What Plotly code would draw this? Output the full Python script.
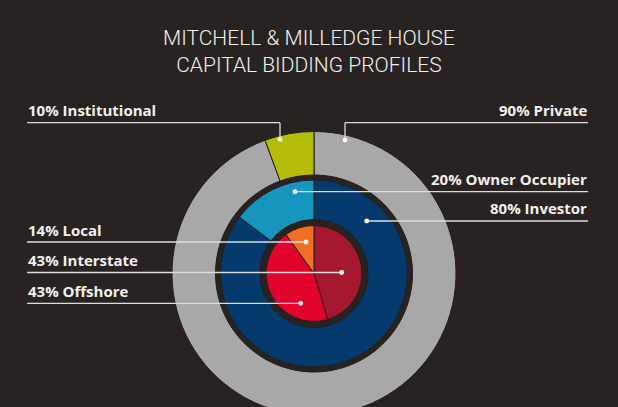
"""Mitchell & Milledge House: capital bidding profiles as three nested rings.

Slice sizes follow the artwork as drawn (the artwork is not to scale with
its own printed percentages); the printed callout texts are kept as-is.
"""
import plotly.graph_objects as go

# --- data --------------------------------------------------------------------
source_labels = ["Private", "Institutional"]
source_values = [94.4, 5.6]
buyer_labels = ["Investor", "Owner Occupier"]
buyer_values = [85.3, 14.7]
origin_labels = ["Interstate", "Offshore", "Local"]
origin_values = [45.4, 44.7, 9.9]

source_text = ["90% Private", "10% Institutional"]
buyer_text = ["80% Investor", "20% Owner Occupier"]
origin_text = ["43% Interstate", "43% Offshore", "14% Local"]

title_lines = ["MITCHELL &amp; MILLEDGE HOUSE", "CAPITAL BIDDING PROFILES"]

# --- theme -------------------------------------------------------------------
_BG = "#282321"
_GAP = "#231e1c"
_INK = "#f2f0ec"
_LEAD = "#dcdcdc"
_SOURCE_COLORS = ["#a8a8a8", "#b4be0a"]
_BUYER_COLORS = ["#043a6e", "#1796bd"]
_ORIGIN_COLORS = ["#a61830", "#e2042c", "#f26e22"]

W, H = 618, 416          # page is 407 tall; the outer ring runs off the bottom
CX, CY = 314, 273.5


def px(x):
    return x / W


def py(y):
    return 1 - y / H


def ring(labels, values, colors, r_out, r_in=0.0):
    return go.Pie(
        labels=labels, values=values, sort=False, direction="clockwise", rotation=0,
        hole=r_in / r_out,
        domain=dict(x=[px(CX - r_out), px(CX + r_out)], y=[py(CY + r_out), py(CY - r_out)]),
        marker=dict(colors=colors, line=dict(color=_GAP, width=1)),
        textinfo="none", hoverinfo="label+percent", showlegend=False,
    )


fig = go.Figure([
    ring(source_labels, source_values, _SOURCE_COLORS, 142, 98.5),
    ring(buyer_labels, buyer_values, _BUYER_COLORS, 93.5, 54),
    ring(origin_labels, origin_values, _ORIGIN_COLORS, 48),
])

# callouts: text, side, leader y, dot x, dot y
callouts = [
    (source_text[1], "left", 122.7, 280, 139.5),
    (source_text[0], "right", 122.7, 345, 140),
    (buyer_text[1], "right", 191.7, 295, 191.7),
    (buyer_text[0], "right", 221, 366.7, 221),
    (origin_text[2], "left", 242, 306, 242),
    (origin_text[0], "left", 272.5, 341.7, 272.5),
    (origin_text[1], "left", 303.3, 300.7, 303.3),
]
LEFT_X, RIGHT_X = 27, 588

shapes, notes = [], []
for text, side, ly, dx, dy in callouts:
    x_end = LEFT_X if side == "left" else RIGHT_X
    seg = dict(type="line", xref="paper", yref="paper", line=dict(color=_LEAD, width=1.3))
    shapes.append(dict(seg, x0=px(x_end), x1=px(dx), y0=py(ly), y1=py(ly)))
    if dy != ly:
        shapes.append(dict(seg, x0=px(dx), x1=px(dx), y0=py(ly), y1=py(dy)))
    shapes.append(dict(type="circle", xref="paper", yref="paper",
                       x0=px(dx - 2.4), x1=px(dx + 2.4), y0=py(dy + 2.4), y1=py(dy - 2.4),
                       fillcolor="white", line=dict(width=0)))
    notes.append(dict(text=text, x=px(x_end), y=py(ly - 1.5), xref="paper", yref="paper",
                      xanchor=side, yanchor="bottom", showarrow=False, borderpad=0,
                      font=dict(family="Open Sans, Lato, sans-serif", size=15,
                                color=_INK, weight=700)))

notes.append(dict(text="<br>".join(title_lines), x=px(309), y=py(51), xref="paper", yref="paper",
                  xanchor="center", yanchor="middle", showarrow=False, align="center",
                  font=dict(family="Roboto, sans-serif", size=21, color=_INK, weight=300)))

fig.update_layout(
    width=W, height=H, margin=dict(l=0, r=0, t=0, b=0),
    paper_bgcolor=_BG, plot_bgcolor=_BG,
    shapes=shapes, annotations=notes, showlegend=False,
)

fig.write_html(
    "out.html",
    config={"displayModeBar": False},
    post_script="document.body.style.margin='0';document.body.style.overflow='hidden';",
)
